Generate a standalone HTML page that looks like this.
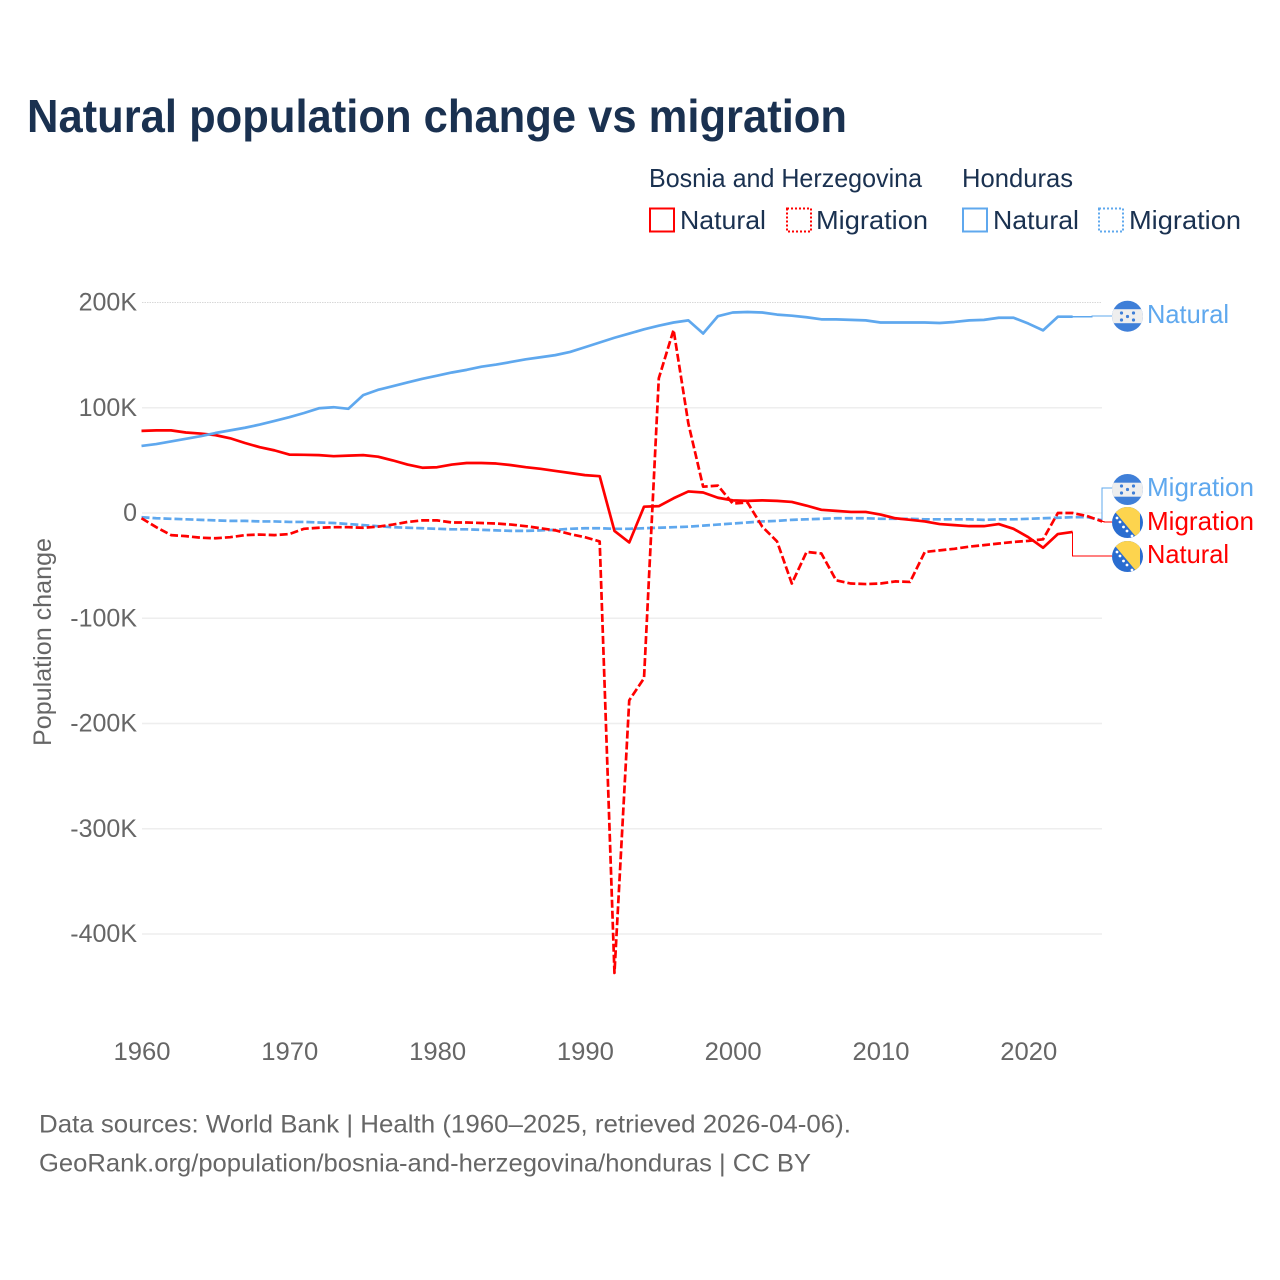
<!DOCTYPE html>
<html lang="en">
<head>
<meta charset="utf-8">
<title>Natural population change vs migration</title>
<style>
html,body{margin:0;padding:0;background:#fff;}
svg{display:block;font-family:"Liberation Sans",sans-serif;}
</style>
</head>
<body>
<svg id="chart" xmlns="http://www.w3.org/2000/svg" width="1280" height="1280" viewBox="0 0 1280 1280">
  <defs>
    <clipPath id="c1"><circle cx="1127.500" cy="316.200" r="15.500"/></clipPath>
    <clipPath id="c2"><circle cx="1127.500" cy="489.500" r="15.500"/></clipPath>
    <clipPath id="c3"><circle cx="1127.500" cy="522.500" r="15.500"/></clipPath>
    <clipPath id="c4"><circle cx="1127.500" cy="556.500" r="15.500"/></clipPath>
  </defs>
  <rect x="0" y="0" width="1280" height="1280" fill="#fff"/>
  <text x="27" y="132" font-size="46" font-weight="700" fill="#1a3150" textLength="820" lengthAdjust="spacingAndGlyphs">Natural population change vs migration</text>

  <g font-size="26" fill="#1a3150">
    <text x="649" y="187" textLength="273" lengthAdjust="spacingAndGlyphs">Bosnia and Herzegovina</text>
    <text x="962" y="187" textLength="111" lengthAdjust="spacingAndGlyphs">Honduras</text>
    <rect x="650" y="208.500" width="24" height="23" fill="none" stroke="#ff0000" stroke-width="2"/>
    <text x="680" y="229" textLength="86" lengthAdjust="spacingAndGlyphs">Natural</text>
    <rect x="787" y="208.500" width="24" height="23" fill="none" stroke="#ff0000" stroke-width="2" stroke-dasharray="2 2"/>
    <text x="816" y="229" textLength="112" lengthAdjust="spacingAndGlyphs">Migration</text>
    <rect x="963" y="208.500" width="24" height="23" fill="none" stroke="#5fa8ee" stroke-width="2"/>
    <text x="993" y="229" textLength="86" lengthAdjust="spacingAndGlyphs">Natural</text>
    <rect x="1099" y="208.500" width="24" height="23" fill="none" stroke="#5fa8ee" stroke-width="2" stroke-dasharray="2 2"/>
    <text x="1129" y="229" textLength="112" lengthAdjust="spacingAndGlyphs">Migration</text>
  </g>

  <g id="grid"></g>
  <g id="yticks" font-size="25" fill="#666"></g>
  <g id="xticks" font-size="25" fill="#666"></g>
  <text transform="translate(51,642) rotate(-90)" text-anchor="middle" font-size="25" fill="#666" textLength="208" lengthAdjust="spacingAndGlyphs">Population change</text>

  <g id="leaders"></g>
  <g id="series"></g>

  <g clip-path="url(#c1)">
    <rect x="1112" y="300" width="31" height="33" fill="#3f7fd8"/><rect x="1112" y="309.200" width="31" height="14" fill="#eeeeee"/>
    <g fill="#3f7fd8"><circle cx="1121.500" cy="313" r="1.600"/><circle cx="1133.500" cy="313" r="1.600"/><circle cx="1127.500" cy="316.500" r="1.600"/><circle cx="1121.500" cy="320" r="1.600"/><circle cx="1133.500" cy="320" r="1.600"/></g>
  </g>
  <g clip-path="url(#c2)">
    <rect x="1112" y="473" width="31" height="33" fill="#3f7fd8"/><rect x="1112" y="482.700" width="31" height="14" fill="#eeeeee"/>
    <g fill="#3f7fd8"><circle cx="1121.500" cy="486" r="1.600"/><circle cx="1133.500" cy="486" r="1.600"/><circle cx="1127.500" cy="489.500" r="1.600"/><circle cx="1121.500" cy="493" r="1.600"/><circle cx="1133.500" cy="493" r="1.600"/></g>
  </g>
  <g clip-path="url(#c3)">
    <rect x="1112" y="506" width="31" height="33" fill="#2a6dd0"/><polygon points="1111,507 1140,507 1140,541.600" fill="#fdd44e"/>
    <g fill="#fff"><circle cx="1117" cy="518" r="1.400"/><circle cx="1120" cy="522" r="1.400"/><circle cx="1123.500" cy="527" r="1.400"/><circle cx="1127" cy="531" r="1.400"/><circle cx="1132" cy="536" r="1.400"/></g>
  </g>
  <g clip-path="url(#c4)">
    <rect x="1112" y="540" width="31" height="33" fill="#2a6dd0"/><polygon points="1111,541 1140,541 1140,575.600" fill="#fdd44e"/>
    <g fill="#fff"><circle cx="1117" cy="552" r="1.400"/><circle cx="1120" cy="556" r="1.400"/><circle cx="1123.500" cy="561" r="1.400"/><circle cx="1127" cy="565" r="1.400"/><circle cx="1132" cy="570" r="1.400"/></g>
  </g>

  <g font-size="26">
    <text x="1147" y="323" fill="#5fa8ee" textLength="82" lengthAdjust="spacingAndGlyphs">Natural</text>
    <text x="1147" y="496" fill="#5fa8ee" textLength="107" lengthAdjust="spacingAndGlyphs">Migration</text>
    <text x="1147" y="530" fill="#ff0000" textLength="107" lengthAdjust="spacingAndGlyphs">Migration</text>
    <text x="1147" y="563" fill="#ff0000" textLength="82" lengthAdjust="spacingAndGlyphs">Natural</text>
  </g>

  <g font-size="25" fill="#666">
    <text x="39" y="1132.500" textLength="812" lengthAdjust="spacingAndGlyphs">Data sources: World Bank | Health (1960–2025, retrieved 2026-04-06).</text>
    <text x="39" y="1171.500" textLength="772" lengthAdjust="spacingAndGlyphs">GeoRank.org/population/bosnia-and-herzegovina/honduras | CC BY</text>
  </g>
</svg>
<script>
const startYear = 1960;
const xTickYears = [1960, 1970, 1980, 1990, 2000, 2010, 2020];
const yTickValues = [200, 100, 0, -100, -200, -300, -400];
const yTickLabels = ["200K", "100K", "0", "-100K", "-200K", "-300K", "-400K"];
const dottedGridValues = [200];

const hondurasMigration = [-4,-5,-5.5,-6,-6.5,-7,-7.5,-7.5,-8,-8,-8.5,-8.5,-9,-9.5,-10.5,-11.5,-12.5,-13.5,-14,-14.5,-15,-15.5,-15.5,-16,-16.5,-17,-17,-16.5,-16,-15,-14.5,-14.5,-15,-15,-14.5,-14,-13.5,-13,-12,-11,-10,-9,-8,-7.5,-6.5,-6,-5.5,-5,-5,-5,-5.5,-5.5,-5.5,-6,-6,-6,-6,-6.5,-6,-6,-5.5,-5,-4.500,-4,-4,-7];
const bosniaMigration = [-5,-13.5,-21,-22,-23.5,-24,-23,-21,-20.5,-21,-20,-15,-14,-13.5,-13.5,-14,-13,-11,-8.5,-7,-7,-9,-9,-9.5,-10,-11,-12.5,-14.5,-16.5,-20,-23,-27,-437,-178,-157,128,174,85,25,26,9,10,-13,-27,-67,-37,-38.5,-64,-67,-67.5,-67,-65,-65.5,-37,-35.5,-34,-32,-30.5,-29,-27.5,-26.5,-25,0,0,-3,-8];
const bosniaNatural = [78,78.5,78.5,76.5,75.5,74,71,66.5,62.5,59.5,55.5,55.3,55,54,54.5,55,53.5,50,46,43,43.5,46,47.5,47.5,47,45.5,43.5,42,40,38,36,35,-17,-28,6,6.5,14,20.5,19.5,14.5,12,11.5,12,11.5,10.5,7,3,2,1,1,-1.5,-5,-6.5,-8,-10.5,-11.5,-12.5,-12.5,-10.5,-15,-23,-33,-20,-18];
const hondurasNatural = [63.7,65.5,68,70.5,73,76,78.5,81,84,87.5,91,95,99.5,100.5,99,112,117,120.5,124,127.5,130.5,133.5,136,139,141,143.5,146,148,150,153,157.5,162,166.5,170.5,174.5,178,181,183,170.5,187,190.5,191,190.5,188.5,187.5,186,184,184,183.5,183,181,181,181,181,180.5,181.5,183,183.5,185.5,185.5,180,173.5,186.5,186.5];

const NS = "http://www.w3.org/2000/svg";
function xScale(year) { return 141.5 + (year - 1960) * 14.78; }
function yScale(v) { return 513 - v * 1.0525; }
function linePoints(values) {
  return values.map(function (v, i) { return xScale(startYear + i).toFixed(2) + "," + yScale(v).toFixed(2); }).join(" ");
}

const gridGroup = document.getElementById("grid");
const yGroup = document.getElementById("yticks");
yTickValues.forEach(function (v, i) {
  const line = document.createElementNS(NS, "line");
  
  
  line.setAttribute("x1", 142);
  line.setAttribute("x2", 1102);
  line.setAttribute("y1", yScale(v));
  line.setAttribute("y2", yScale(v));
  line.setAttribute("stroke", dottedGridValues.includes(v) ? "#d8d8d8" : "#eeeeee");
  line.setAttribute("stroke-width", dottedGridValues.includes(v) ? 1 : 1.5);
  if (dottedGridValues.includes(v)) line.setAttribute("stroke-dasharray", "1.500 1");
  gridGroup.appendChild(line);
  const label = document.createElementNS(NS, "text");
  
  
  label.setAttribute("x", 137);
  label.setAttribute("y", yScale(v) + 8);
  label.setAttribute("text-anchor", "end");
  label.textContent = yTickLabels[i];
  yGroup.appendChild(label);
});

const xGroup = document.getElementById("xticks");
xTickYears.forEach(function (year) {
  const label = document.createElementNS(NS, "text");
  
  
  label.setAttribute("x", xScale(year) + 0.5);
  label.setAttribute("y", 1060);
  label.setAttribute("text-anchor", "middle");
  label.setAttribute("textLength", 57);
  label.setAttribute("lengthAdjust", "spacingAndGlyphs");
  label.textContent = String(year);
  xGroup.appendChild(label);
});

const seriesGroup = document.getElementById("series");
function addSeries(values, color, dashed, name) {
  const line = document.createElementNS(NS, "polyline");
  
  
  line.setAttribute("points", linePoints(values));
  line.setAttribute("fill", "none");
  line.setAttribute("stroke", color);
  line.setAttribute("stroke-width", 2.7);
  line.setAttribute("stroke-linejoin", "round");
  if (dashed) line.setAttribute("stroke-dasharray", "8 3");
  seriesGroup.appendChild(line);
}
addSeries(hondurasMigration, "#5fa8ee", true, "series-honduras-migration");
addSeries(bosniaMigration, "#ff0000", true, "series-bosnia-migration");
addSeries(bosniaNatural, "#ff0000", false, "series-bosnia-natural");
addSeries(hondurasNatural, "#5fa8ee", false, "series-honduras-natural");

const leaderGroup = document.getElementById("leaders");
function addLeader(values, color, midX, flagY, name) {
  const endX = xScale(startYear + values.length - 1);
  const endY = yScale(values[values.length - 1]);
  const line = document.createElementNS(NS, "polyline");
  
  
  line.setAttribute("points", [endX + "," + endY, midX + "," + endY, midX + "," + flagY, "1112," + flagY].join(" "));
  line.setAttribute("fill", "none");
  line.setAttribute("stroke", color);
  line.setAttribute("stroke-width", 1.2);
  line.setAttribute("shape-rendering", "crispEdges");
  leaderGroup.appendChild(line);
}
addLeader(hondurasNatural, "#5fa8ee", 1092, 316, "leader-honduras-natural");
addLeader(hondurasMigration, "#5fa8ee", 1102, 488, "leader-honduras-migration");
addLeader(bosniaMigration, "#ff0000", 1104, 522, "leader-bosnia-migration");
addLeader(bosniaNatural, "#ff0000", 1072.5, 556, "leader-bosnia-natural");
</script>
</body>
</html>
